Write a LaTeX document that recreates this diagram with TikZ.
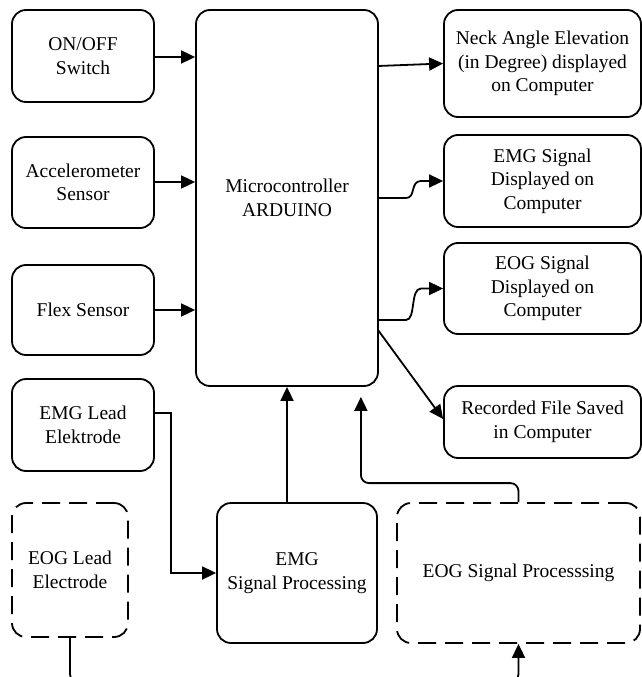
\documentclass[tikz,border=0pt]{standalone}
\usepackage{fontspec}
\setmainfont{Liberation Serif}
\usetikzlibrary{arrows.meta,calc}

\begin{document}
\begin{tikzpicture}[x=1pt, y=-1pt,
    box/.style={draw, line width=1.8pt, rounded corners=14pt, align=center,
        font=\fontsize{19.5}{23.5}\selectfont, inner sep=2pt},
    dashbox/.style={box, dash pattern=on 18pt off 9pt},
    arr/.style={line width=1.8pt, -{Triangle[length=14pt,width=13pt]}},
    wire/.style={line width=1.8pt}]
    %%%%% START %%%%%
    \useasboundingbox (0,0) rectangle (642,677);

    % inputs on the left
    \node[box, minimum width=142pt, minimum height=92pt] (onoff) at (83,56) {ON/OFF\\Switch};
    \node[box, minimum width=142pt, minimum height=91pt] (accel) at (83,182.5) {Accelerometer\\Sensor};
    \node[box, minimum width=142pt, minimum height=90pt] (flex) at (83,310) {Flex Sensor};
    \node[box, minimum width=142pt, minimum height=92pt] (emglead) at (83,425) {EMG Lead\\Elektrode};
    \node[dashbox, minimum width=116pt, minimum height=134pt] (eoglead) at (70,570) {EOG Lead\\Electrode};

    % controller and processing
    \node[box, minimum width=182pt, minimum height=376pt] (micro) at (287,198) {Microcontroller\\ARDUINO};
    \node[box, minimum width=160pt, minimum height=140pt] (emgsp) at (297,573) {EMG\\Signal Processing};
    \node[dashbox, minimum width=243pt, minimum height=140pt] (eogsp) at (518.5,573) {EOG Signal Processsing};

    % outputs on the right
    \node[box, minimum width=197pt, minimum height=107pt] (neck) at (542.5,63.5) {Neck Angle Elevation\\(in Degree) displayed\\on Computer};
    \node[box, minimum width=197pt, minimum height=92pt] (emgdisp) at (542.5,181) {EMG Signal\\Displayed on\\Computer};
    \node[box, minimum width=197pt, minimum height=91pt] (eogdisp) at (542.5,288.5) {EOG Signal\\Displayed on\\Computer};
    \node[box, minimum width=197pt, minimum height=72pt] (recorded) at (542.5,422) {Recorded File Saved\\in Computer};

    % into the controller
    \draw[arr] (onoff.east |- 0,57) -- (micro.west |- 0,57);
    \draw[arr] (accel.east |- 0,182) -- (micro.west |- 0,182);
    \draw[arr] (flex.east) -- (flex.east -| micro.west);
    \draw[arr] (micro.south |- emgsp.north) -- (micro.south);
    \draw[arr, rounded corners=8pt] (eogsp.north) -- ++(0,-19) -| ($(micro.south east)+(-18,10)$);
    \draw[arr] ($(emglead.east)+(0,-12)$) -- ++(16,0) |- (emgsp.west);
    \draw[arr, rounded corners=10pt] (eoglead.south) -- (70,684) -| (eogsp.south);

    % out of the controller
    \coordinate (m1) at (378,66);
    \coordinate (m2) at (378,198);
    \coordinate (m3) at (378,320);
    \coordinate (m4) at (378,330);
    \draw[arr] (m1) -- (neck.west);
    \draw[arr] (m2) -- (406,198) .. controls (416,198) and (410,181) .. (421,181) -- (emgdisp.west);
    \draw[arr] (m3) -- (406,320) .. controls (416,320) and (410,288.5) .. (421,288.5) -- (eogdisp.west);
    \draw[arr] (m4) -- ($(recorded.west)+(0,-3)$);
    %%%%% END %%%%%
\end{tikzpicture}
\end{document}
